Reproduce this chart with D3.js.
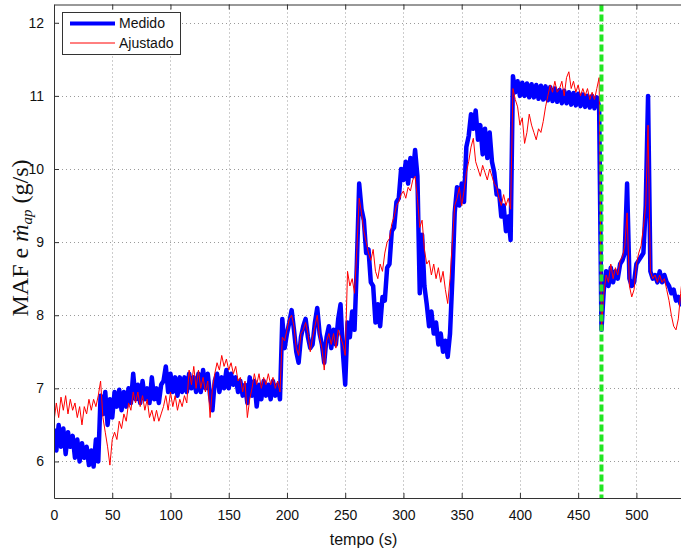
<!DOCTYPE html>
<html>
<head>
<meta charset="utf-8">
<script src="https://cdn.jsdelivr.net/npm/d3@7/dist/d3.min.js"></script>
<style>
html,body{margin:0;padding:0;background:#fff;}
svg{display:block;}
</style>
</head>
<body>
<svg id="chart" width="681" height="549"></svg>
<script>
// ---- data ----
const timeStep = 2;
const xTicks = [0,50,100,150,200,250,300,350,400,450,500];
const yTicks = [6,7,8,9,10,11,12];
const seriesNames = ["Medido","Ajustado"];
const markerTime = 470;

const medido = [
6.45,6.15,6.5,6.2,6.45,6.1,6.4,6.2,6.35,6.05,
6.3,6.0,6.25,6.05,6.2,5.95,6.15,5.93,6.3,6.0,
6.9,6.65,6.95,6.5,6.85,6.6,6.95,6.75,6.98,6.7,
6.95,6.75,7.0,6.8,7.2,6.85,7.05,6.8,7.1,6.85,
7.0,6.8,7.15,6.85,7.0,6.8,7.05,7.1,7.3,6.95,
7.2,6.95,7.15,6.9,7.15,6.95,7.15,6.95,7.2,7.0,
7.15,6.95,7.2,6.95,7.25,7.0,7.2,6.9,6.7,7.1,
7.2,6.95,7.15,7.0,7.25,7.0,7.2,7.05,7.15,6.95,
7.1,6.9,7.05,6.8,7.15,6.9,7.1,6.75,7.05,6.85,
7.1,6.9,7.05,6.85,7.1,6.9,7.05,6.85,7.95,7.55,
7.75,7.9,8.07,7.8,7.5,7.35,7.7,7.85,7.95,7.7,
7.55,7.6,7.9,8.1,7.75,7.6,7.35,7.7,7.85,7.55,
7.8,7.6,7.95,8.15,7.5,7.05,7.9,7.7,8.05,7.8,
8.7,9.8,9.45,9.3,8.85,8.9,8.45,8.4,7.9,8.15,
7.85,8.25,8.2,8.65,8.7,9.15,9.2,9.55,9.6,10.0,
9.85,10.1,9.8,10.15,9.9,10.26,9.9,8.3,9.1,8.4,
8.15,7.85,8.05,7.75,7.9,7.6,7.75,7.5,7.65,7.43,
7.75,8.5,9.4,9.75,9.5,9.8,9.55,10.3,10.45,10.75,
10.55,10.8,10.4,10.6,10.2,10.55,10.15,10.5,10.1,9.95,
9.65,9.7,9.35,9.5,9.15,9.35,9.03,11.27,11.05,11.2,
11.0,11.18,11.0,11.17,10.98,11.16,10.98,11.15,10.96,11.14,
10.95,11.13,10.94,11.12,10.93,11.1,10.92,11.08,10.9,11.07,
10.9,11.05,10.88,11.04,10.87,11.03,10.86,11.02,10.85,11.0,
10.84,11.0,10.83,10.98,10.85,7.8,8.35,8.6,8.4,8.65,
8.45,8.6,8.5,8.7,8.75,8.85,9.8,8.5,8.4,8.45,
8.7,8.75,8.8,8.85,9.5,11.0,8.6,8.5,8.55,8.45,
8.6,8.45,8.55,8.45,8.4,8.3,8.35,8.2,8.25,8.15,
8.2
];

const ajustado = [
6.55,6.8,6.6,6.88,6.7,6.9,6.65,6.85,6.7,6.8,
6.6,6.75,6.5,6.75,6.65,6.85,6.7,6.85,6.75,6.9,
7.1,6.6,6.4,6.2,5.95,6.3,6.4,6.3,6.55,6.45,
6.65,6.55,6.8,6.7,6.95,6.8,6.95,6.75,6.9,6.7,
6.85,6.6,6.7,6.55,6.7,6.55,6.65,6.75,6.9,6.7,
6.95,6.75,6.9,6.7,6.85,6.75,6.9,6.8,7.25,7.05,
7.3,7.0,7.25,7.0,7.15,6.95,7.1,6.6,7.0,7.2,
7.35,7.25,7.45,7.3,7.4,7.25,7.35,7.2,7.3,7.1,
7.15,6.95,7.1,6.6,6.85,7.0,7.2,7.05,7.2,7.0,
7.15,7.05,7.2,7.05,7.15,7.0,7.1,6.95,7.7,7.65,
7.8,7.95,8.0,7.85,7.55,7.45,7.75,7.8,7.9,7.75,
7.5,7.7,7.85,8.0,7.7,7.55,7.25,7.65,7.75,7.6,
7.75,7.55,7.8,7.7,7.6,7.45,8.6,8.4,8.5,8.3,
8.9,9.6,9.4,9.15,9.0,8.85,8.75,8.9,8.6,8.5,
8.7,8.6,8.85,9.0,9.05,9.25,9.35,9.5,9.55,9.65,
9.7,9.6,9.75,9.7,9.85,9.9,9.6,9.2,9.3,8.9,
8.7,8.75,8.55,8.7,8.5,8.65,8.45,8.6,8.35,8.16,
8.5,9.0,9.5,9.6,9.75,9.5,9.7,9.95,10.1,10.3,
10.42,10.1,10.0,9.9,10.05,9.95,9.85,10.0,9.9,9.8,
9.75,9.6,9.5,9.65,9.5,9.6,9.45,11.1,10.95,10.85,
10.6,10.7,10.35,10.5,10.75,10.6,10.5,10.4,10.55,10.5,
10.65,10.85,11.0,11.15,11.05,11.2,11.05,11.1,11.2,11.0,
11.25,11.33,11.1,11.2,11.05,11.15,11.0,11.1,11.0,11.1,
10.95,11.05,10.95,11.1,11.25,7.8,8.3,8.55,8.45,8.7,
8.5,8.65,8.55,8.75,8.8,8.95,9.4,8.4,8.25,8.35,
8.7,8.85,8.95,9.2,9.5,10.6,8.6,8.5,8.55,8.45,
8.55,8.45,8.5,8.35,8.2,8.0,7.85,7.8,7.95,8.3,
8.6
];

// ---- layout ----
const svg = d3.select("#chart");
const margin = {left:54, top:4.5, right:683, bottom:498};
const x = d3.scaleLinear().domain([0,540]).range([margin.left, margin.right]);
const y = d3.scaleLinear().domain([5.5,12.25]).range([margin.bottom, margin.top]);
const font = "'Liberation Sans', Arial, Helvetica, sans-serif";

svg.append("defs").append("clipPath").attr("id","clip")
  .append("rect").attr("x",margin.left).attr("y",margin.top)
  .attr("width",margin.right-margin.left).attr("height",margin.bottom-margin.top);

// grid
const grid = svg.append("g").attr("stroke","#9a9a9a").attr("stroke-width",1).attr("stroke-dasharray","1,3");
grid.selectAll(".gx").data(xTicks.filter(d=>d>0)).join("line")
  .attr("x1",d=>Math.round(x(d))+0.5).attr("x2",d=>Math.round(x(d))+0.5)
  .attr("y1",margin.top).attr("y2",margin.bottom);
grid.selectAll(".gy").data(yTicks).join("line")
  .attr("y1",d=>Math.round(y(d))+0.5).attr("y2",d=>Math.round(y(d))+0.5)
  .attr("x1",margin.left).attr("x2",margin.right);

// lines
const plot = svg.append("g").attr("clip-path","url(#clip)");
const line = d3.line().x((d,i)=>x(i*timeStep)).y(d=>y(d));
plot.append("path").datum(medido).attr("d",line)
  .attr("fill","none").attr("stroke","#0000ff").attr("stroke-width",4.5).attr("stroke-linejoin","round");
plot.append("path").datum(ajustado).attr("d",line)
  .attr("fill","none").attr("stroke","#ff0000").attr("stroke-width",1);
plot.append("line")
  .attr("x1",x(markerTime)).attr("x2",x(markerTime))
  .attr("y1",margin.top).attr("y2",margin.bottom)
  .attr("stroke","#22e622").attr("stroke-width",4).attr("stroke-dasharray","7,3");

// axes
const axB = svg.append("g").attr("transform",`translate(0,${margin.bottom})`)
  .call(d3.axisBottom(x).tickValues(xTicks).tickSizeInner(-5).tickSizeOuter(0).tickPadding(12).tickFormat(d3.format("d")));
const axT = svg.append("g").attr("transform",`translate(0,${margin.top})`)
  .call(d3.axisTop(x).tickValues(xTicks).tickSizeInner(-5).tickSizeOuter(0).tickFormat(""));
const axL = svg.append("g").attr("transform",`translate(${margin.left},0)`)
  .call(d3.axisLeft(y).tickValues(yTicks).tickSizeInner(-5).tickSizeOuter(0).tickPadding(10).tickFormat(d3.format("d")));
[axB,axT,axL].forEach(a=>{
  a.selectAll("path,line").attr("stroke","#333");
  a.selectAll("text").attr("font-family",font).attr("font-size",14).attr("fill","#111");
});

// x label
svg.append("text").attr("x",(x(0)+x(540))/2 - 5).attr("y",545)
  .attr("text-anchor","middle").attr("font-family",font).attr("font-size",16).attr("fill","#111")
  .text("tempo (s)");

// y label
const yl = svg.append("text")
  .attr("transform",`translate(28,238) rotate(-90)`)
  .attr("text-anchor","middle").attr("font-family","'Liberation Serif','DejaVu Serif',serif")
  .attr("font-size",24).attr("fill","#111");
yl.append("tspan").text("MAF e ");
yl.append("tspan").attr("font-style","italic").text("ṁ");
yl.append("tspan").attr("font-style","italic").attr("font-size",15).attr("dy",4).text("ap");
yl.append("tspan").attr("dy",-4).text(" (g/s)");

// legend
const lg = svg.append("g");
lg.append("rect").attr("x",62.5).attr("y",12.5).attr("width",118).attr("height",42)
  .attr("fill","#fff").attr("stroke","#333");
const lgColors = ["#0000ff","#ff0000"], lgWidths=[4,1];
seriesNames.forEach((n,i)=>{
  const yy = 23.5 + i*19.5;
  lg.append("line").attr("x1",70).attr("x2",115).attr("y1",yy).attr("y2",yy)
    .attr("stroke",lgColors[i]).attr("stroke-width",lgWidths[i]);
  lg.append("text").attr("x",119).attr("y",yy).attr("dy","0.35em")
    .attr("font-family",font).attr("font-size",14).attr("fill","#111").text(n);
});
</script>
</body>
</html>
